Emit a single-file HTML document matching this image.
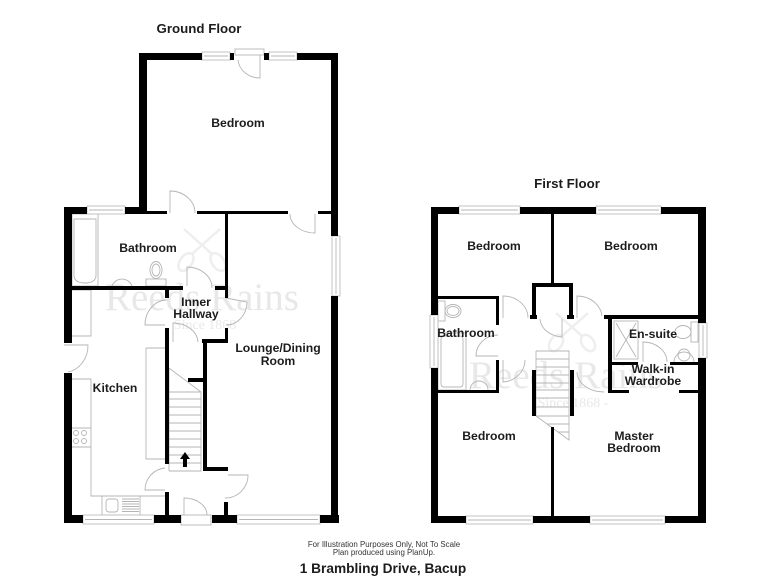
<!DOCTYPE html>
<html>
<head>
<meta charset="utf-8">
<style>
html,body{margin:0;padding:0;background:#fff}
svg{display:block;filter:blur(.35px)}
text{font-family:"Liberation Sans",sans-serif;font-weight:700;fill:#1c1c1c;text-anchor:middle;font-size:12.2px}
.wm{font-family:"Liberation Serif",serif;font-weight:400;fill:#e8e8e8;font-size:39px}
.sm{font-family:"Liberation Serif",serif;font-weight:400;fill:#e8e8e8;font-size:14px}
.f{font-weight:400;font-size:7.9px;fill:#333}
.t{font-size:13.7px}
.h{font-size:13.3px}
.l{fill:none;stroke:#b5b5b5;stroke-width:.9}
.win{fill:#fff;stroke:#bdbdbd;stroke-width:.9}
.k{fill:none;stroke:#eeeeee;stroke-width:2.5}
</style>
</head>
<body>
<svg width="768" height="576" viewBox="0 0 768 576" xmlns="http://www.w3.org/2000/svg">
<rect width="768" height="576" fill="#fff"/>

<!-- watermarks -->
<g class="k">
<ellipse cx="186" cy="262" rx="6" ry="10" transform="rotate(35 186 262)"/>
<ellipse cx="218" cy="262" rx="6" ry="10" transform="rotate(-35 218 262)"/>
<path d="M192 254L220 229M212 254L184 229"/>
<ellipse cx="556" cy="343" rx="6" ry="9" transform="rotate(35 556 343)"/>
<ellipse cx="588" cy="343" rx="6" ry="9" transform="rotate(-35 588 343)"/>
<path d="M562 336L588 313M582 336L556 313"/>
</g>
<text class="wm" x="202" y="310">Reeds Rains</text>
<text class="sm" x="205" y="329">Since 1868</text>
<text class="wm" x="566" y="388">Reeds Rains</text>
<text class="sm" x="573" y="407">Since 1868 -</text>

<!-- GROUND FLOOR fixtures -->
<g class="l">
<!-- bath -->
<rect x="72" y="214" width="26" height="72"/>
<path d="M74 219H96V275Q96 283 85 283Q74 283 74 275Z"/>
<!-- basin and wc -->
<path d="M112 286A10.500 10 0 0 1 132 286"/>
<ellipse cx="156" cy="270" rx="6" ry="8.500"/>
<ellipse cx="156" cy="270" rx="4" ry="6"/>
<rect x="146" y="279" width="20" height="7"/>
<!-- kitchen -->
<path d="M72 290H91V336H72"/>
<path d="M72 379H91V496H165"/>
<path d="M72 428H91M72 447H91"/>
<circle cx="76" cy="433" r="2.500"/><circle cx="84" cy="433" r="2.500"/>
<circle cx="76" cy="441" r="2.500"/><circle cx="84" cy="441" r="2.500"/>
<rect x="102" y="496" width="38" height="19"/>
<rect x="106" y="499" width="12" height="13" rx="3"/>
<path d="M122 499H139M122 501.500H139M122 504H139M122 506.500H139M122 509H139M122 511.500H139"/>
<path d="M146 348V459H165"/>
<path d="M146 348H165"/>
<!-- stairs ground -->
<path d="M169 368L201 392V471H169"/>
<path d="M169 392H201M169 399H201M169 407H201M169 415H201M169 423H201M169 431H201M169 439H201M169 447H201M169 455H201M169 463H201"/>
<path d="M169 368V471"/>
<!-- doors -->
<path d="M238 60A22 20 0 0 0 260 78V55"/>
<rect x="235" y="49" width="29" height="6" fill="#fff"/>
<path d="M170 213V191A25 22 0 0 1 195 213"/>
<path d="M187 286V267A25 21 0 0 1 212 288"/>
<path d="M165 325H145A22 25 0 0 1 167 300"/>
<path d="M173 342V323A25 20 0 0 1 198 342"/>
<path d="M226 298L247 302A21 23 0 0 1 226 325"/>
<path d="M315 214V233A25 19 0 0 1 290 214"/>
<path d="M64 345H88A24 27 0 0 1 68 372"/>
<path d="M165 490H145A22 22 0 0 1 165 468"/>
<path d="M184 515V498A23 17 0 0 1 207 515"/>
<rect x="181" y="515" width="30" height="10" fill="#fff"/>
<path d="M228 475H248A23 23 0 0 1 225 498"/>
</g>
<!-- ground windows -->
<g>
<rect class="win" x="202" y="52" width="28" height="8"/><path class="l" d="M204 56H228"/>
<rect class="win" x="269" y="52" width="28" height="8"/><path class="l" d="M271 56H295"/>
<rect class="win" x="87" y="206" width="38" height="8"/><path class="l" d="M89 210H123"/>
<rect class="win" x="332" y="236" width="8" height="60"/><path class="l" d="M336 238V294"/>
<rect class="win" x="83" y="515" width="71" height="9"/><path class="l" d="M85 519.500H152"/>
<rect class="win" x="237" y="515" width="83" height="9"/><path class="l" d="M239 519.500H318"/>
</g>

<!-- GROUND walls -->
<g fill="#000">
<rect x="139" y="53" width="63" height="7"/>
<rect x="297" y="53" width="41" height="7"/>
<rect x="230" y="53" width="4" height="7"/>
<rect x="264" y="53" width="5" height="7"/>
<rect x="139" y="53" width="8" height="161"/>
<rect x="331" y="53" width="7" height="183"/>
<rect x="331" y="296" width="7" height="227"/>
<rect x="147" y="211" width="20" height="3"/>
<rect x="197" y="211" width="91" height="3"/>
<rect x="318" y="211" width="13" height="3"/>
<rect x="64" y="207" width="23" height="7"/>
<rect x="125" y="207" width="22" height="7"/>
<rect x="64" y="207" width="8" height="136"/>
<rect x="64" y="373" width="8" height="150"/>
<rect x="64" y="515" width="19" height="8"/>
<rect x="154" y="515" width="27" height="8"/>
<rect x="212" y="515" width="25" height="8"/>
<rect x="320" y="515" width="19" height="8"/>
<rect x="72" y="286" width="111" height="4"/>
<rect x="215" y="286" width="13" height="4"/>
<rect x="225" y="214" width="3" height="84"/>
<rect x="165" y="290" width="4" height="8"/>
<rect x="165" y="328" width="4" height="136"/>
<rect x="225" y="328" width="3" height="12"/>
<rect x="202" y="339" width="26" height="4"/>
<rect x="203" y="339" width="4" height="132"/>
<rect x="203" y="467" width="25" height="4"/>
<rect x="188" y="378" width="15" height="4"/>
<rect x="165" y="492" width="4" height="23"/>
<rect x="224" y="502" width="4" height="13"/>
</g>
<!-- stair arrow -->
<path d="M185 452L190 459H187V467H183V459H180Z" fill="#000"/>

<!-- FIRST FLOOR fixtures -->
<g class="l">
<ellipse cx="453" cy="311" rx="8" ry="6.500"/>
<ellipse cx="453" cy="311" rx="6" ry="4.500"/>
<rect x="438" y="301" width="7" height="20"/>
<rect x="438" y="333" width="28" height="57"/>
<rect x="441" y="336" width="22" height="51" rx="3"/>
<path d="M470 390A9 9 0 0 1 488 390"/>
<!-- doors -->
<path d="M503 318V296A25 22 0 0 1 528 318"/>
<path d="M498 335A22 21 0 0 0 476 356H498"/>
<path d="M503 360V382A24 22 0 0 0 525 360"/>
<path d="M540 319A24 19 0 0 0 562 337V319"/>
<path d="M577 318V296A25 22 0 0 1 602 316"/>
<path d="M577 372A27 20 0 0 0 604 392"/>
<path d="M643 362V342A24 20 0 0 1 667 362"/>
<!-- stairs -->
<path d="M536 351H569V440L536 416"/>
<path d="M536 351V416"/>
<path d="M536 359H569M536 367H569M536 375H569M536 383H569M536 390H569M536 398H569M536 407H569M536 416H569M547 424H569M558 432H569"/>
<!-- ensuite -->
<rect x="614" y="321" width="24" height="38"/>
<path d="M616 323L626 340L616 357M636 323L626 340L636 357"/>
<ellipse cx="683" cy="332" rx="8" ry="6.500"/>
<rect x="691" y="322" width="7" height="20"/>
<path d="M674 362A10 10 0 0 1 694 362"/>
<circle cx="684" cy="355" r="6"/>
</g>
<!-- first windows -->
<g>
<rect class="win" x="459" y="206" width="61" height="8"/><path class="l" d="M461 210H518"/>
<rect class="win" x="596" y="206" width="65" height="8"/><path class="l" d="M598 210H659"/>
<rect class="win" x="430" y="315" width="8" height="53"/><path class="l" d="M434 317V366"/>
<rect class="win" x="699" y="323" width="8" height="35"/><path class="l" d="M703 325V356"/>
<rect class="win" x="466" y="516" width="67" height="8"/><path class="l" d="M468 520H531"/>
<rect class="win" x="590" y="516" width="75" height="8"/><path class="l" d="M592 520H663"/>
</g>
<!-- FIRST walls -->
<g fill="#000">
<rect x="431" y="207" width="28" height="7"/>
<rect x="520" y="207" width="76" height="7"/>
<rect x="661" y="207" width="45" height="7"/>
<rect x="431" y="207" width="7" height="108"/>
<rect x="431" y="368" width="7" height="155"/>
<rect x="698" y="207" width="8" height="116"/>
<rect x="698" y="358" width="8" height="165"/>
<rect x="431" y="516" width="35" height="7"/>
<rect x="533" y="516" width="57" height="7"/>
<rect x="665" y="516" width="41" height="7"/>
<rect x="551" y="214" width="3" height="69"/>
<rect x="532" y="283" width="41" height="4"/>
<rect x="532" y="283" width="4" height="35"/>
<rect x="569" y="283" width="4" height="35"/>
<rect x="530" y="315" width="7" height="4"/>
<rect x="567" y="315" width="7" height="4"/>
<rect x="438" y="296" width="61" height="3"/>
<rect x="496" y="296" width="3" height="29"/>
<rect x="496" y="360" width="3" height="33"/>
<rect x="431" y="390" width="68" height="3"/>
<rect x="532" y="370" width="4" height="46"/>
<rect x="570" y="370" width="4" height="46"/>
<rect x="551" y="427" width="3" height="89"/>
<rect x="604" y="315" width="94" height="4"/>
<rect x="608" y="319" width="4" height="74"/>
<rect x="612" y="362" width="26" height="3"/>
<rect x="670" y="362" width="28" height="3"/>
<rect x="608" y="390" width="21" height="3"/>
<rect x="679" y="390" width="19" height="3"/>
</g>

<!-- labels -->
<text class="h" x="199" y="33">Ground Floor</text>
<text x="238" y="127">Bedroom</text>
<text x="148" y="252">Bathroom</text>
<text x="196" y="306">Inner</text>
<text x="196" y="318">Hallway</text>
<text x="278" y="352">Lounge/Dining</text>
<text x="278" y="365">Room</text>
<text x="115" y="392">Kitchen</text>
<text class="h" x="567" y="188">First Floor</text>
<text x="494" y="250">Bedroom</text>
<text x="631" y="250">Bedroom</text>
<text x="466" y="337">Bathroom</text>
<text x="653" y="338">En-suite</text>
<text x="653" y="373">Walk-in</text>
<text x="653" y="385">Wardrobe</text>
<text x="489" y="440">Bedroom</text>
<text x="634" y="440">Master</text>
<text x="634" y="452">Bedroom</text>
<text class="f" x="384" y="547">For Illustration Purposes Only, Not To Scale</text>
<text class="f" x="384" y="555">Plan produced using PlanUp.</text>
<text class="t" x="383" y="573">1 Brambling Drive, Bacup</text>
</svg>
</body>
</html>
